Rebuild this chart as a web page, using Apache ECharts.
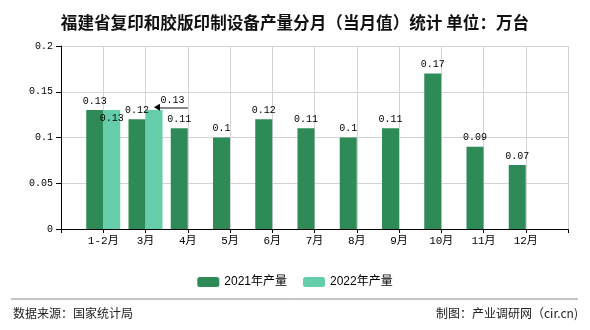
<!DOCTYPE html>
<html>
<head>
<meta charset="utf-8">
<script src="https://cdn.jsdelivr.net/npm/echarts@6/dist/echarts.min.js"></script>
<style>html,body{margin:0;padding:0;background:#fff}#c{width:590px;height:330px}</style>
</head>
<body>
<div id="c"></div>
<script>
const titleText = '福建省复印和胶版印制设备产量分月（当月值）统计 单位：万台';
const categories = ['', '1-2月', '3月', '4月', '5月', '6月', '7月', '8月', '9月', '10月', '11月', '12月', ''];
const months = ['1-2月', '3月', '4月', '5月', '6月', '7月', '8月', '9月', '10月', '11月', '12月'];
const values2021 = [0.13, 0.12, 0.11, 0.10, 0.12, 0.11, 0.10, 0.11, 0.17, 0.09, 0.07];
const values2022 = [0.13, 0.13];
const seriesNames = ['2021年产量', '2022年产量'];
const yTicks = [0, 0.05, 0.1, 0.15, 0.2];
const sourceText = '数据来源：国家统计局';
const makerText = '制图：产业调研网（cir.cn)';

const monoFont = '"Liberation Mono", "DejaVu Sans Mono", "Noto Sans CJK SC", monospace';
const cjkFont = '"Noto Sans CJK SC", sans-serif';

function pad(vals) {
  return categories.map(c => {
    const i = months.indexOf(c);
    return (i >= 0 && i < vals.length) ? vals[i] : null;
  });
}
const d2021 = pad(values2021);
const d2022 = pad(values2022).map((v, i) => {
  if (v === null) return null;
  const m = categories[i];
  if (m === '1-2月') return { value: v, label: { position: 'insideTop', distance: 3 } };
  if (m === '3月') return { value: v, label: { show: false } };
  return v;
});
const idx3 = categories.indexOf('3月');

const chart = echarts.init(document.getElementById('c'), null, { renderer: 'canvas' });
chart.setOption({
  animation: false,
  backgroundColor: '#fff',
  title: {
    text: titleText, left: 'center', top: 9,
    textStyle: { fontSize: 16.6, fontWeight: 'bold', color: '#111', fontFamily: cjkFont }
  },
  legend: {
    data: seriesNames, left: 'center', top: 271, itemWidth: 22, itemHeight: 10, itemGap: 16,
    textStyle: { fontSize: 12, color: '#000', fontFamily: '"Liberation Sans", ' + cjkFont }
  },
  grid: { left: 61, right: 22, top: 46, bottom: 101, containLabel: false },
  xAxis: [{
    type: 'category', data: categories, boundaryGap: false,
    axisLine: { lineStyle: { color: '#000', width: 1 } },
    axisTick: { show: true, length: 4, lineStyle: { color: '#000' } },
    axisLabel: { color: '#000', fontSize: 11, fontFamily: monoFont, margin: 7, interval: 0 },
    splitLine: { show: true, lineStyle: { color: '#d3d3d3', width: 1 } }
  }, {
    type: 'value', min: 0, max: categories.length - 1, show: false
  }],
  yAxis: {
    type: 'value', min: yTicks[0], max: yTicks[yTicks.length - 1], interval: yTicks[1] - yTicks[0],
    axisLine: { show: true, lineStyle: { color: '#000' } },
    axisTick: { show: true, length: 5, lineStyle: { color: '#000' } },
    axisLabel: { color: '#000', fontSize: 10, fontFamily: monoFont, margin: 8 },
    splitLine: { show: true, lineStyle: { color: '#d3d3d3', width: 1 } }
  },
  series: [{
    name: seriesNames[0], type: 'bar', data: d2021, barWidth: 17, barGap: '0%',
    itemStyle: { color: '#2e8b57' },
    label: { show: true, position: 'top', distance: 4, color: '#000', fontSize: 10, fontFamily: monoFont }
  }, {
    name: seriesNames[1], type: 'bar', data: d2022, barWidth: 17, barGap: '0%',
    itemStyle: { color: '#66cdaa' },
    label: { show: true, position: 'top', distance: 4, color: '#000', fontSize: 10, fontFamily: monoFont }
  }, {
    name: 'note', type: 'line', xAxisIndex: 1, data: [], silent: true,
    markLine: {
      silent: true, animation: false,
      symbol: ['none', 'none'],
      lineStyle: { color: '#888', width: 2, type: 'solid' },
      label: { show: true, position: 'middle', distance: 3, color: '#000', fontSize: 10, fontFamily: monoFont,
               formatter: () => String(values2022[1]) },
      data: [[
        { coord: [idx3 + 0.28, values2022[1] + 0.002] },
        { coord: [idx3 + 1, values2022[1] + 0.002] }
      ]]
    },
    markPoint: {
      silent: true, animation: false,
      symbol: 'triangle', symbolSize: [7, 6], symbolRotate: 90,
      itemStyle: { color: '#000' },
      label: { show: false },
      data: [{ coord: [idx3 + 0.27, values2022[1] + 0.003] }]
    }
  }],
  graphic: [
    { type: 'line', shape: { x1: 11, y1: 299, x2: 578, y2: 299 }, style: { stroke: '#888', lineWidth: 1 } },
    { type: 'text', left: 13, top: 307, style: { text: sourceText, fill: '#222', font: '12px ' + cjkFont } },
    { type: 'text', right: 12, top: 307, style: { text: makerText, fill: '#222', font: '12px ' + cjkFont } }
  ]
});
</script>
</body>
</html>
